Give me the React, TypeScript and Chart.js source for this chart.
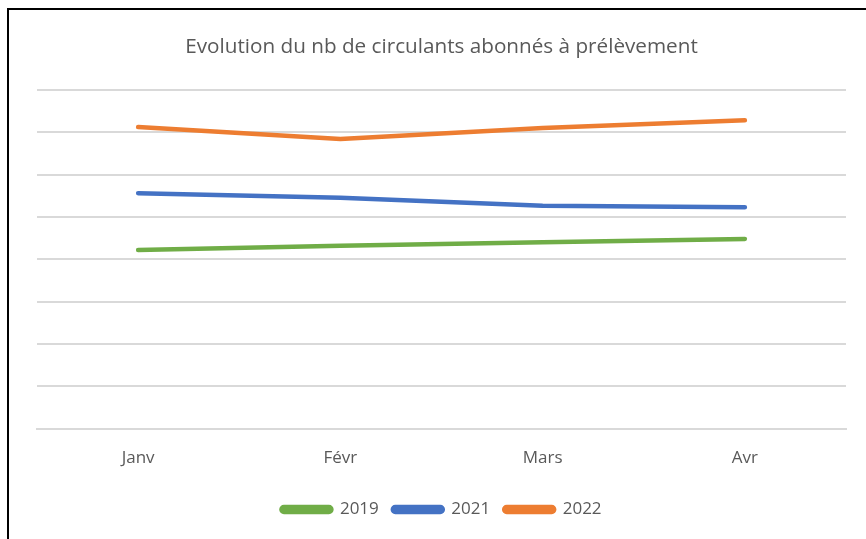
import React, { useEffect, useRef } from "react";
import { Chart, registerables } from "chart.js";

Chart.register(...registerables);

const categories = ["Janv", "Févr", "Mars", "Avr"];
const series2019 = [4.22, 4.32, 4.4, 4.48];
const series2021 = [5.56, 5.45, 5.26, 5.23];
const series2022 = [7.12, 6.84, 7.1, 7.28];
const yTicks = [0, 1, 2, 3, 4, 5, 6, 7, 8];

const FONT = '"Open Sans", "Noto Sans", sans-serif';
const TEXT = "#595959";

export default function App() {
  const ref = useRef<HTMLCanvasElement | null>(null);
  useEffect(() => {
    document.body.style.margin = "0";
    const ctx = ref.current!;
    const chart = new Chart(ctx, {
      type: "line",
      data: {
        labels: categories,
        datasets: [
          { label: "2019", data: series2019, borderColor: "#70AD47", backgroundColor: "#70AD47" },
          { label: "2021", data: series2021, borderColor: "#4472C4", backgroundColor: "#4472C4" },
          { label: "2022", data: series2022, borderColor: "#ED7D31", backgroundColor: "#ED7D31" },
        ].map((d) => ({
          ...d,
          borderWidth: 4.5,
          borderCapStyle: "round" as const,
          borderJoinStyle: "round" as const,
          pointRadius: 0,
          tension: 0,
          fill: false,
        })),
      },
      options: {
        responsive: false,
        animation: false,
        layout: { padding: { left: 37, right: 20, top: 0, bottom: 11 } },
        plugins: {
          title: {
            display: true,
            text: "Evolution du nb de circulants abonnés à prélèvement",
            color: TEXT,
            font: { family: FONT, size: 20.7, weight: "normal" },
            padding: { top: 35, bottom: 30 },
          },
          legend: {
            position: "bottom",
            labels: {
              color: TEXT,
              font: { family: FONT, size: 17 },
              boxWidth: 50,
              boxHeight: 5,
              useBorderRadius: true,
              borderRadius: 2.5,
              padding: 14,
            },
          },
          tooltip: { enabled: false },
        },
        scales: {
          x: {
            offset: true,
            grid: { display: false, drawTicks: false },
            border: { display: true, color: "#D9D9D9", width: 2 },
            ticks: { color: TEXT, font: { family: FONT, size: 17 }, padding: 19 },
          },
          y: {
            min: yTicks[0],
            max: yTicks[yTicks.length - 1],
            afterBuildTicks: (axis: any) => {
              axis.ticks = yTicks.map((v) => ({ value: v }));
            },
            grid: { color: "#D9D9D9", lineWidth: 2, drawTicks: false },
            border: { display: false },
            ticks: { display: false },
          },
        },
      },
    });
    return () => chart.destroy();
  }, []);
  return (
    <div style={{ position: "relative", width: 866, height: 539, background: "#fff" }}>
      <canvas ref={ref} width={866} height={539} style={{ position: "absolute", left: 0, top: 0 }} />
      <div
        style={{
          position: "absolute",
          left: 7,
          top: 8,
          width: 859,
          height: 531,
          borderTop: "2px solid #000",
          borderLeft: "2px solid #000",
          boxSizing: "border-box",
          pointerEvents: "none",
        }}
      />
    </div>
  );
}
